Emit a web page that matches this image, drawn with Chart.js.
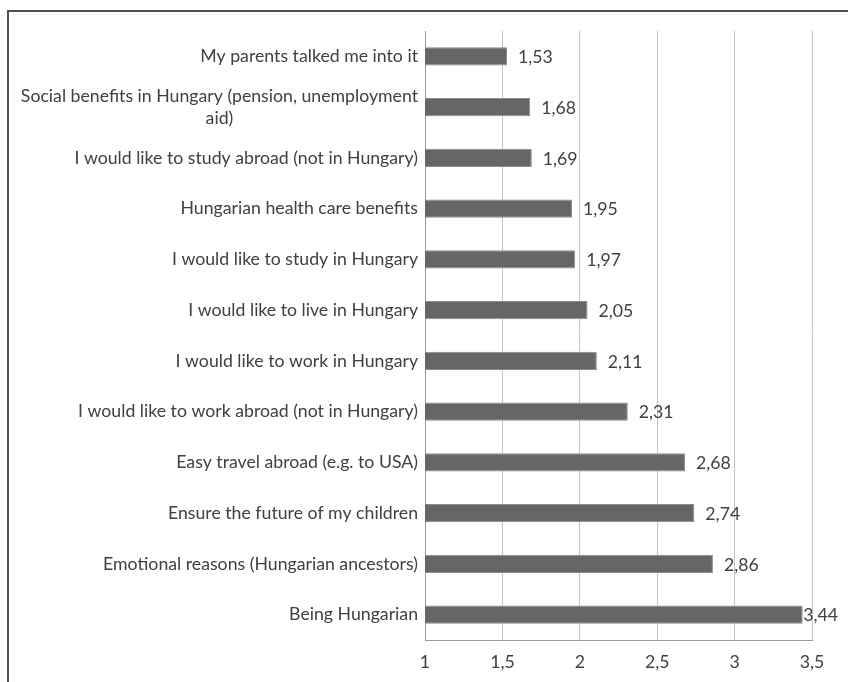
<!DOCTYPE html>
<html>
<head>
<meta charset="utf-8">
<script src="https://cdn.jsdelivr.net/npm/chart.js@4.4.1/dist/chart.umd.min.js"></script>
<style>
  html, body { margin: 0; padding: 0; background: #ffffff; }
  #wrap { width: 848px; height: 682px; position: relative; }
  canvas { display: block; }
</style>
</head>
<body>
<div id="wrap"><canvas id="chart" width="848" height="682"></canvas></div>
<script>
// Reasons for applying, mean scores
const categories = [
  "My parents talked me into it",
  ["Social benefits in Hungary (pension, unemployment", "aid)"],
  "I would like to study abroad (not in Hungary)",
  "Hungarian health care benefits",
  "I would like to study in Hungary",
  "I would like to live in Hungary",
  "I would like to work in Hungary",
  "I would like to work abroad (not in Hungary)",
  "Easy travel abroad (e.g. to USA)",
  "Ensure the future of my children",
  "Emotional reasons (Hungarian ancestors)",
  "Being Hungarian"
];
const values = [1.53, 1.68, 1.69, 1.95, 1.97, 2.05, 2.11, 2.31, 2.68, 2.74, 2.86, 3.44];
const axisMin = 1;
const axisMax = 3.5;
const axisStep = 0.5;

const FONT_FAMILY = "Lato, 'Open Sans', sans-serif";
const FONT_SIZE = 17.7;
const TEXT_COLOR = "#404040";

const fmt = v => Number(v).toFixed(2).replace(".", ",");

// Outer frame (top and left edges)
const framePlugin = {
  id: "frame",
  afterDraw(chart) {
    const ctx = chart.ctx;
    ctx.save();
    ctx.fillStyle = "#4f4f4f";
    ctx.fillRect(7, 10, 841, 2);
    ctx.fillRect(7, 10, 2, 672);
    ctx.restore();
  }
};

// Category labels: right-aligned block, multi-line entries centred within the block
const categoryLabelPlugin = {
  id: "categoryLabels",
  afterDraw(chart) {
    const ctx = chart.ctx;
    const yScale = chart.scales.y;
    const rightEdge = yScale.right - 7;
    const lineH = 22;
    ctx.save();
    ctx.font = FONT_SIZE + "px " + FONT_FAMILY;
    ctx.fillStyle = TEXT_COLOR;
    ctx.textBaseline = "middle";
    ctx.textAlign = "center";
    categories.forEach((label, i) => {
      const lines = Array.isArray(label) ? label : [label];
      const w = Math.max(...lines.map(l => ctx.measureText(l).width));
      const cx = rightEdge - w / 2;
      const cy = yScale.getPixelForTick(i);
      const y0 = cy - (lines.length - 1) * lineH / 2;
      lines.forEach((l, k) => ctx.fillText(l, cx, y0 + k * lineH));
    });
    ctx.restore();
  }
};

// Value labels at the end of each bar
const valueLabelPlugin = {
  id: "valueLabels",
  afterDatasetsDraw(chart) {
    const ctx = chart.ctx;
    const meta = chart.getDatasetMeta(0);
    ctx.save();
    ctx.font = FONT_SIZE + "px " + FONT_FAMILY;
    ctx.fillStyle = TEXT_COLOR;
    ctx.textBaseline = "middle";
    ctx.textAlign = "left";
    meta.data.forEach((bar, i) => {
      const txt = fmt(values[i]);
      const w = ctx.measureText(txt).width;
      const x = Math.min(bar.x + 11, 838 - w);
      ctx.fillText(txt, x, bar.y + 1);
    });
    ctx.restore();
  }
};

new Chart(document.getElementById("chart"), {
  type: "bar",
  data: {
    labels: categories,
    datasets: [{
      data: values,
      backgroundColor: "#666666",
      borderColor: "#8c8c8c",
      borderWidth: 1,
      borderSkipped: "start",
      categoryPercentage: 1,
      barPercentage: 0.355
    }]
  },
  options: {
    indexAxis: "y",
    responsive: false,
    animation: false,
    layout: { padding: { left: 0, right: 36, top: 31, bottom: 0 } },
    plugins: {
      legend: { display: false },
      tooltip: { enabled: false }
    },
    scales: {
      x: {
        type: "linear",
        min: axisMin,
        max: axisMax,
        ticks: {
          stepSize: axisStep,
          color: TEXT_COLOR,
          font: { family: FONT_FAMILY, size: FONT_SIZE },
          padding: 12,
          callback: v => String(v).replace(".", ",")
        },
        grid: { color: "#c4c4c4", lineWidth: 1, drawTicks: false },
        border: { display: true, color: "#9a9a9a", width: 1 },
        afterFit(scale) { scale.height = 42; }
      },
      y: {
        type: "category",
        ticks: { display: false },
        grid: { display: false, drawTicks: false },
        border: { display: true, color: "#9a9a9a", width: 1 },
        afterFit(scale) { scale.width = 425; }
      }
    }
  },
  plugins: [framePlugin, categoryLabelPlugin, valueLabelPlugin]
});
</script>
</body>
</html>
